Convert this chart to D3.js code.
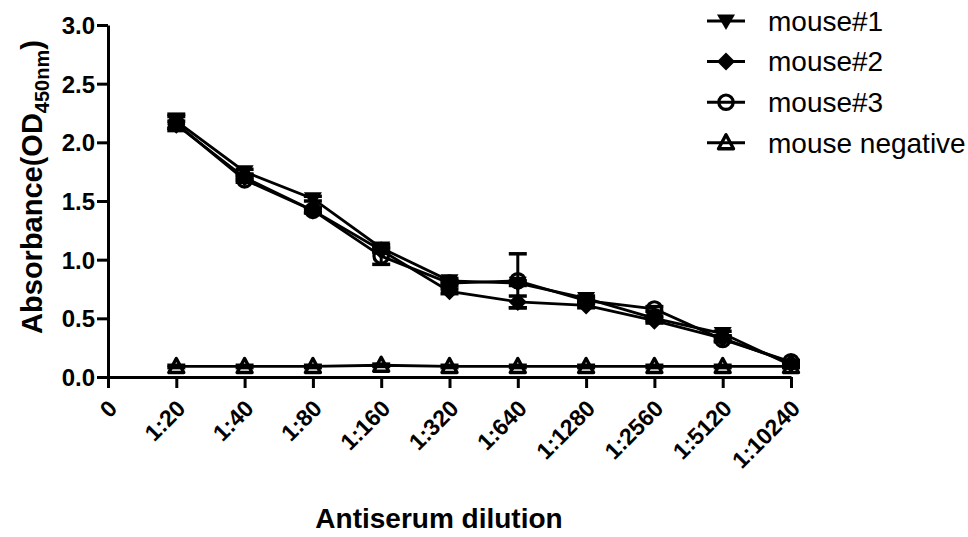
<!DOCTYPE html>
<html><head><meta charset="utf-8">
<script src="https://cdn.jsdelivr.net/npm/d3@7"></script>
<style>body{margin:0;background:#fff}svg{display:block}text{font-family:"Liberation Sans",Arial,sans-serif}</style>
</head><body>
<svg id="c" width="968" height="537"></svg>
<script>
const categories = ["0","1:20","1:40","1:80","1:160","1:320","1:640","1:1280","1:2560","1:5120","1:10240"];
const yTicks = [0,0.5,1.0,1.5,2.0,2.5,3.0];
const mouse1 = [2.18,1.75,1.52,1.10,0.82,0.80,0.67,0.50,0.37,0.10];
const mouse2 = [2.15,1.70,1.42,1.08,0.73,0.64,0.61,0.48,0.33,0.12];
const mouse3 = [2.16,1.68,1.42,1.03,0.80,0.82,0.65,0.58,0.32,0.13];
const negative = [0.09,0.09,0.09,0.10,0.09,0.09,0.09,0.09,0.09,0.09];
const err1 = [0.06,0.02,0.02,0.03,0.02,0.02,0.02,0.02,0.02,0.01];
const err2 = [0.03,0.02,0.02,0.02,0.02,0.05,0.02,0.02,0.02,0.01];
const err3 = [0.06,0.02,0.02,0.07,0.02,0.23,0.02,0.02,0.02,0.01];
const errN = [0.01,0.01,0.01,0.01,0.01,0.01,0.01,0.01,0.01,0.01];
const seriesNames = ["mouse#1","mouse#2","mouse#3","mouse negative"];

const svg = d3.select("#c");
const x = d3.scaleLinear().domain([0,10]).range([108,791]);
const y = d3.scaleLinear().domain([0,3]).range([377,25]);

const series = [
  {name:seriesNames[0], v:mouse1, e:err1, shape:"tdown"},
  {name:seriesNames[1], v:mouse2, e:err2, shape:"diamond"},
  {name:seriesNames[2], v:mouse3, e:err3, shape:"circle"},
  {name:seriesNames[3], v:negative, e:errN, shape:"tup"}
];

function drawMarker(g, shape, cx, cy){
  if(shape==="circle"){
    g.append("circle").attr("cx",cx).attr("cy",cy).attr("r",7.2)
     .attr("fill","none").attr("stroke","#000").attr("stroke-width",3.2);
  } else if(shape==="diamond"){
    const s=9;
    g.append("path").attr("d",`M${cx},${cy-s}L${cx+s},${cy}L${cx},${cy+s}L${cx-s},${cy}Z`)
     .attr("fill","#000");
  } else if(shape==="tdown"){
    g.append("path").attr("d",`M${cx-9},${cy-6.5}L${cx+9},${cy-6.5}L${cx},${cy+9}Z`).attr("fill","#000");
  } else if(shape==="tup"){
    g.append("path").attr("d",`M${cx-7.5},${cy+6}L${cx+7.5},${cy+6}L${cx},${cy-8}Z`)
     .attr("fill","none").attr("stroke","#000").attr("stroke-width",3.4).attr("stroke-linejoin","round");
  }
}

const line = d3.line().x((d,i)=>x(i+1)).y(d=>y(d));
series.forEach(s=>{
  const g = svg.append("g");
  g.append("path").datum(s.v).attr("d",line).attr("fill","none").attr("stroke","#000").attr("stroke-width",2.8);
  s.v.forEach((v,i)=>{
    const cx=x(i+1), e=s.e[i];
    g.append("line").attr("x1",cx).attr("x2",cx).attr("y1",y(v-e)).attr("y2",y(v+e)).attr("stroke","#000").attr("stroke-width",3);
    [v-e,v+e].forEach(t=>g.append("line").attr("x1",cx-9).attr("x2",cx+9).attr("y1",y(t)).attr("y2",y(t)).attr("stroke","#000").attr("stroke-width",3.5));
  });
  s.v.forEach((v,i)=>drawMarker(g,s.shape,x(i+1),y(v)));
});

const yAxis = svg.append("g").attr("transform","translate(108,0)")
  .call(d3.axisLeft(y).tickValues(yTicks).tickFormat(d3.format(".1f")).tickSize(11).tickSizeOuter(0));
const xAxis = svg.append("g").attr("transform","translate(0,377)")
  .call(d3.axisBottom(x).tickValues(d3.range(categories.length)).tickFormat(i=>categories[i]).tickSize(11).tickSizeOuter(0));
[yAxis,xAxis].forEach(a=>{
  a.select(".domain").attr("stroke","#000").attr("stroke-width",3);
  a.selectAll(".tick line").attr("stroke","#000").attr("stroke-width",3);
  a.selectAll("text").attr("fill","#000").style("font-weight","bold");
});
yAxis.selectAll("text").style("font-size","24px").attr("x",-13).attr("dy","0.36em");
xAxis.selectAll("text").style("font-size","23px").attr("text-anchor","end")
  .attr("y",0).attr("dy",0)
  .attr("transform","translate(10,33) rotate(-45)");

svg.append("text").attr("x",439).attr("y",528).attr("text-anchor","middle")
  .style("font-size","28px").style("font-weight","bold").text("Antiserum dilution");
const yl = svg.append("text").attr("transform","translate(42,187) rotate(-90)").attr("text-anchor","middle")
  .style("font-size","29px").style("font-weight","bold");
yl.append("tspan").text("Absorbance(OD");
yl.append("tspan").attr("dy",7).style("font-size","20px").text("450nm");
yl.append("tspan").attr("dy",-7).text(")");

const lg = svg.append("g");
series.forEach((s,i)=>{
  const cy = 21 + i*40.6;
  lg.append("line").attr("x1",707).attr("x2",745).attr("y1",cy).attr("y2",cy).attr("stroke","#000").attr("stroke-width",3);
  drawMarker(lg,s.shape,726,cy);
  lg.append("text").attr("x",768).attr("y",cy).attr("dy","0.35em").style("font-size","28px").text(s.name);
});
</script>
</body></html>
